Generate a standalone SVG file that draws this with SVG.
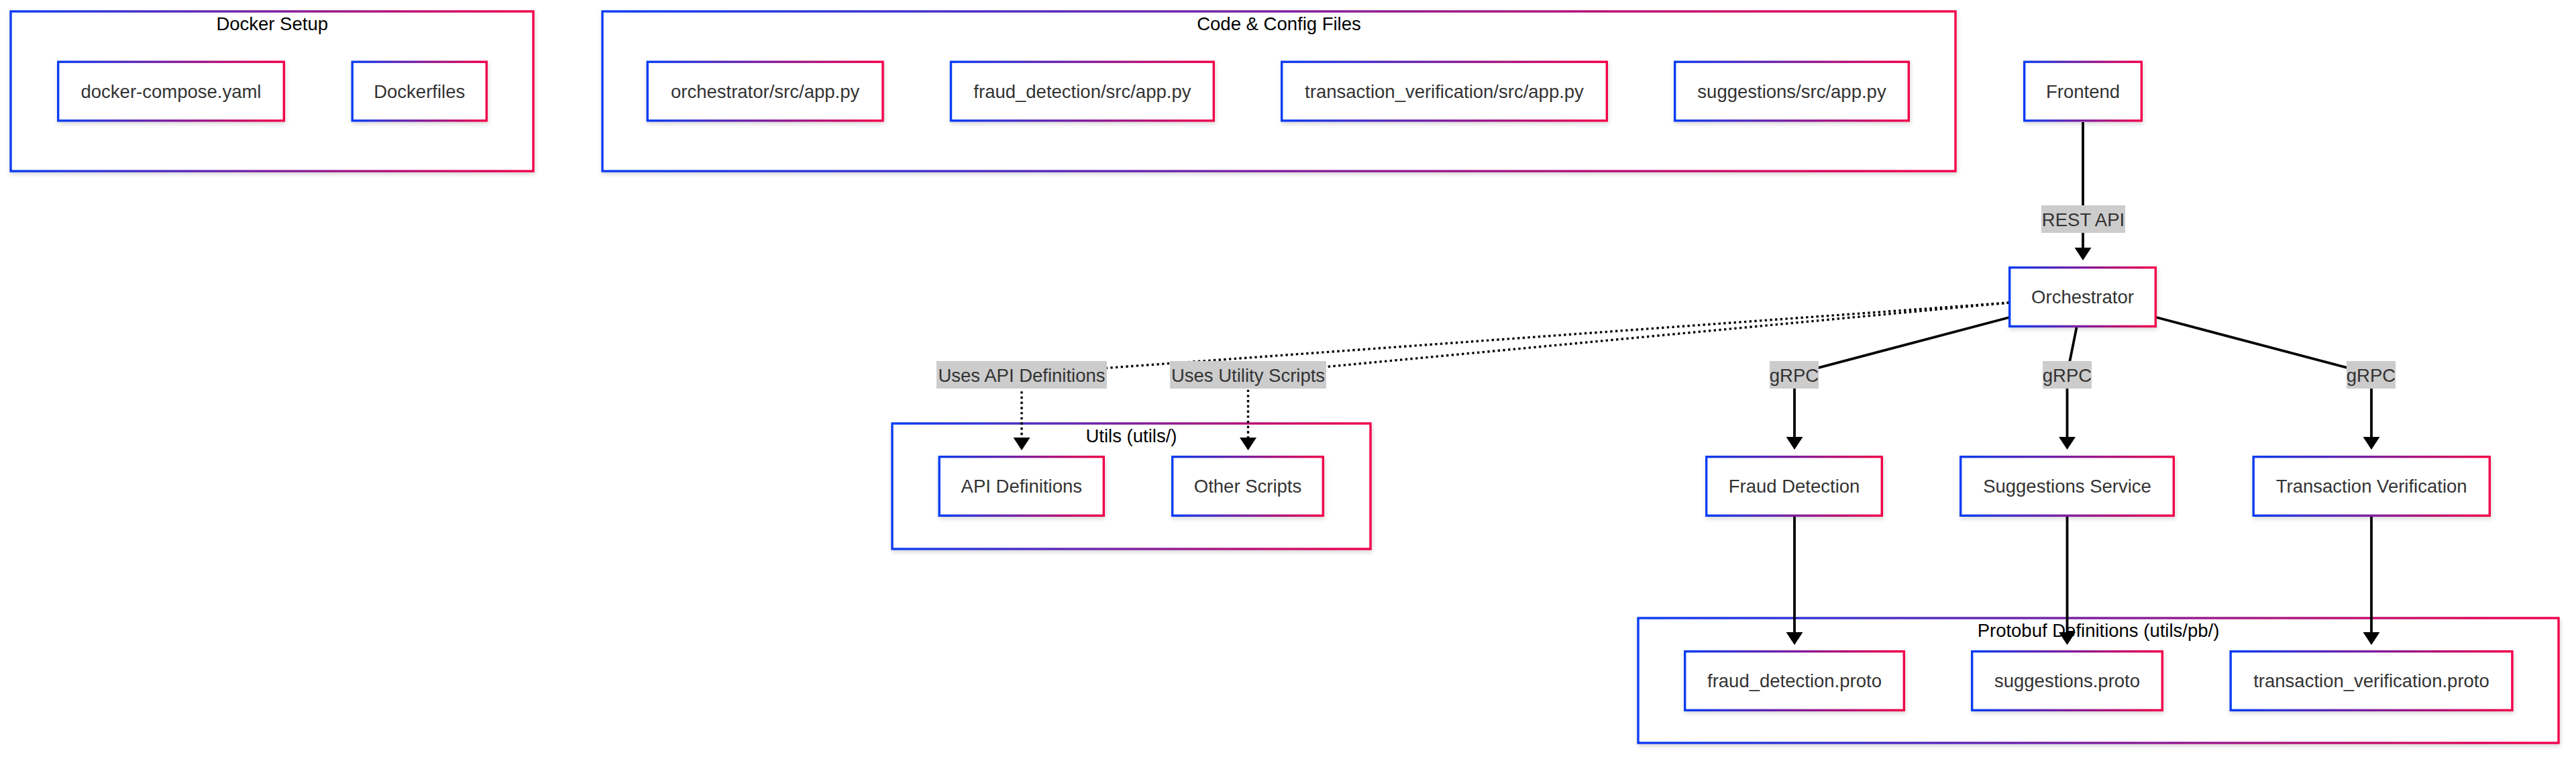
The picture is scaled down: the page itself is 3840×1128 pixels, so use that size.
<svg xmlns="http://www.w3.org/2000/svg" width="3840" height="1128" viewBox="0 0 3840 1128">
<defs>
<linearGradient id="g" x1="0" y1="0" x2="1" y2="0"><stop offset="0" stop-color="#0a3cf2"/><stop offset="1" stop-color="#f2004a"/></linearGradient>
<filter id="sh" x="-5%" y="-10%" width="110%" height="130%"><feDropShadow dx="1" dy="3" stdDeviation="3" flood-color="#000" flood-opacity="0.16"/></filter>
<marker id="ah" viewBox="0 0 19 25" refX="4" refY="12.5" markerWidth="19" markerHeight="25" markerUnits="userSpaceOnUse" orient="auto"><path d="M0,0 L19,12.5 L0,25 z" fill="#000"/></marker>
<style>
.cluster rect{fill:#fff;stroke:url(#g);stroke-width:3.4;filter:url(#sh)}
.node rect{fill:#fff;stroke:url(#g);stroke-width:3.4;filter:url(#sh)}
text{font-family:"Liberation Sans",Arial,Helvetica,sans-serif;font-size:27.5px;text-anchor:middle}
.nt{fill:#333}
.ct{fill:#000}
.e{fill:none;stroke:#000;stroke-width:3.8;marker-end:url(#ah)}
.d{stroke-width:3.4;stroke-dasharray:3.4 4.3}
.lb rect{fill:#cccccc}
.lb text{fill:#333}
</style>
</defs>
<rect width="3840" height="1128" fill="#fff"/>
<g id="cluster-docker" class="cluster"><rect x="16" y="17" width="779" height="238"/><text class="ct" x="405.7" y="45">Docker Setup</text></g>
<g id="cluster-code" class="cluster"><rect x="898" y="17" width="2017" height="238"/><text class="ct" x="1906.5" y="45">Code &amp; Config Files</text></g>
<g id="cluster-utils" class="cluster"><rect x="1330" y="631" width="713" height="187"/><text class="ct" x="1686.5" y="659">Utils (utils/)</text></g>
<g id="cluster-protobuf" class="cluster"><rect x="2442" y="921" width="1372" height="186"/><text class="ct" x="3128" y="949">Protobuf Definitions (utils/pb/)</text></g>
<g id="edges">
<path class="e" d="M3105,182 L3105,373"/>
<path class="e" d="M2995,473 L2675,557.5 L2675,655"/>
<path class="e" d="M3095.5,488 L3081.5,557.5 L3081.5,655"/>
<path class="e" d="M3215,473 L3535,557.5 L3535,655"/>
<path class="e" d="M2675,770 L2675,946"/>
<path class="e" d="M3081.5,770 L3081.5,946"/>
<path class="e" d="M3535,770 L3535,946"/>
<path class="e d" d="M2995,451 L1523,557.5 L1523,656"/>
<path class="e d" d="M2995,451 L1860.5,557.5 L1860.5,656"/>
</g>
<g id="edge-labels">
<g class="lb"><rect x="3043" y="306" width="125" height="41"/><text x="3105.5" y="336.5">REST API</text></g>
<g class="lb"><rect x="2638" y="538" width="73" height="41"/><text x="2674.5" y="568.5">gRPC</text></g>
<g class="lb"><rect x="3045" y="538" width="73" height="41"/><text x="3081.5" y="568.5">gRPC</text></g>
<g class="lb"><rect x="3498" y="538" width="73" height="41"/><text x="3534.5" y="568.5">gRPC</text></g>
<g class="lb"><rect x="1396" y="538" width="254" height="41"/><text x="1523" y="568.5">Uses API Definitions</text></g>
<g class="lb"><rect x="1744" y="538" width="233" height="41"/><text x="1860.5" y="568.5">Uses Utility Scripts</text></g>
</g>
<g id="docker-compose" class="node"><rect x="86.7" y="92.2" width="336.6" height="87.6"/><text class="nt" x="255" y="145.8">docker-compose.yaml</text></g>
<g id="dockerfiles" class="node"><rect x="525.2" y="92.2" width="200.1" height="87.6"/><text class="nt" x="625.2" y="145.8">Dockerfiles</text></g>
<g id="orch-app" class="node"><rect x="965.2" y="92.2" width="350.8" height="87.6"/><text class="nt" x="1140.6" y="145.8">orchestrator/src/app.py</text></g>
<g id="fraud-app" class="node"><rect x="1417.5" y="92.2" width="391.8" height="87.6"/><text class="nt" x="1613.4" y="145.8">fraud_detection/src/app.py</text></g>
<g id="tv-app" class="node"><rect x="1910.7" y="92.2" width="484.6" height="87.6"/><text class="nt" x="2153" y="145.8">transaction_verification/src/app.py</text></g>
<g id="sugg-app" class="node"><rect x="2496.7" y="92.2" width="348.6" height="87.6"/><text class="nt" x="2671" y="145.8">suggestions/src/app.py</text></g>
<g id="frontend" class="node"><rect x="3017.7" y="92.2" width="174.6" height="87.6"/><text class="nt" x="3105" y="145.8">Frontend</text></g>
<g id="orchestrator" class="node"><rect x="2995.7" y="398.7" width="217.6" height="87.6"/><text class="nt" x="3104.5" y="452.3">Orchestrator</text></g>
<g id="api-defs" class="node"><rect x="1400.2" y="680.7" width="245.1" height="87.6"/><text class="nt" x="1522.8" y="734.3">API Definitions</text></g>
<g id="other-scripts" class="node"><rect x="1747.7" y="680.7" width="224.6" height="87.6"/><text class="nt" x="1860" y="734.3">Other Scripts</text></g>
<g id="fraud-detection" class="node"><rect x="2543.7" y="680.7" width="261.6" height="87.6"/><text class="nt" x="2674.5" y="734.3">Fraud Detection</text></g>
<g id="suggestions-service" class="node"><rect x="2922.7" y="680.7" width="317.6" height="87.6"/><text class="nt" x="3081.5" y="734.3">Suggestions Service</text></g>
<g id="transaction-verification" class="node"><rect x="3359.2" y="680.7" width="352.1" height="87.6"/><text class="nt" x="3535.2" y="734.3">Transaction Verification</text></g>
<g id="fraud-proto" class="node"><rect x="2511.7" y="970.7" width="326.6" height="87.6"/><text class="nt" x="2675" y="1024.3">fraud_detection.proto</text></g>
<g id="sugg-proto" class="node"><rect x="2939.7" y="970.7" width="283.6" height="87.6"/><text class="nt" x="3081.5" y="1024.3">suggestions.proto</text></g>
<g id="tv-proto" class="node"><rect x="3325.2" y="970.7" width="419.7" height="87.6"/><text class="nt" x="3535" y="1024.3">transaction_verification.proto</text></g>
</svg>
